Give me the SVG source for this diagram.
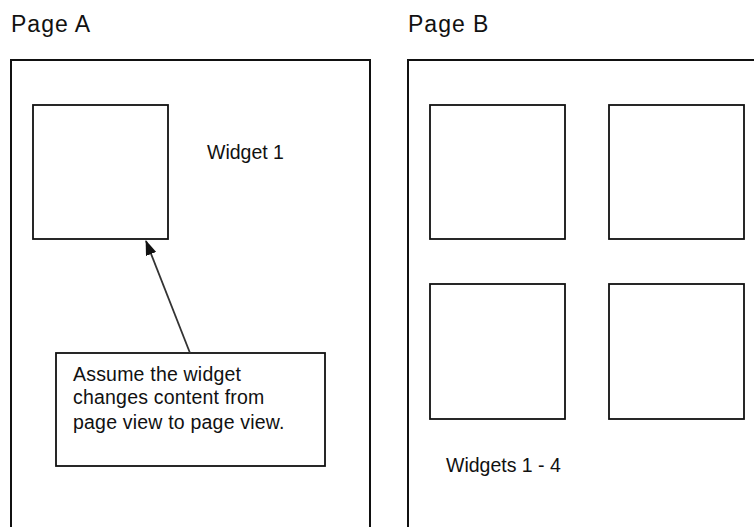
<svg xmlns="http://www.w3.org/2000/svg" width="754" height="527" viewBox="0 0 754 527">
<style>
.page{fill:none;stroke:#111;stroke-width:2}
.box{fill:#fff;stroke:#111;stroke-width:1.8}
.t{font-family:"Liberation Sans",Arial,sans-serif;fill:#111}
.title{font-size:23px;letter-spacing:1px}
.lbl{font-size:19.5px}
.conn{stroke:#333;stroke-width:1.8;fill:none}
</style>
<defs>
<marker id="ah" markerWidth="15" markerHeight="11" refX="14" refY="5.5" orient="auto" markerUnits="userSpaceOnUse" viewBox="0 0 15 11">
<path d="M0,0 L15,5.5 L0,11 Z" fill="#111"/>
</marker>
</defs>
<rect width="754" height="527" fill="#fff"/>
<g id="pageA">
<text class="t title" x="11" y="32">Page A</text>
<rect class="page" x="11" y="60" width="359" height="500"/>
</g>
<g id="pageB">
<text class="t title" x="408" y="32">Page B</text>
<rect class="page" x="408" y="60" width="400" height="500"/>
</g>
<g id="widgetA">
<rect class="box" x="33" y="105" width="135" height="134"/>
<text class="t lbl" x="207" y="159">Widget 1</text>
</g>
<g id="note">
<rect class="box" x="56" y="353" width="269" height="113"/>
<text class="t lbl" x="73" y="381" letter-spacing="0.2">Assume the widget</text>
<text class="t lbl" x="73" y="404" letter-spacing="0.2">changes content from</text>
<text class="t lbl" x="73" y="429" letter-spacing="0.2">page view to page view.</text>
</g>
<g id="widgetB1"><rect class="box" x="430" y="105" width="135" height="134"/></g>
<g id="widgetB2"><rect class="box" x="609" y="105" width="135" height="134"/></g>
<g id="widgetB3"><rect class="box" x="430" y="284" width="135" height="135"/></g>
<g id="widgetB4"><rect class="box" x="609" y="284" width="135" height="135"/></g>
<g id="widgetsLabel"><text class="t lbl" x="446" y="472">Widgets 1 - 4</text></g>
<g id="connectors">
<line class="conn" x1="190" y1="353" x2="146" y2="241" marker-end="url(#ah)"/>
</g>
</svg>
